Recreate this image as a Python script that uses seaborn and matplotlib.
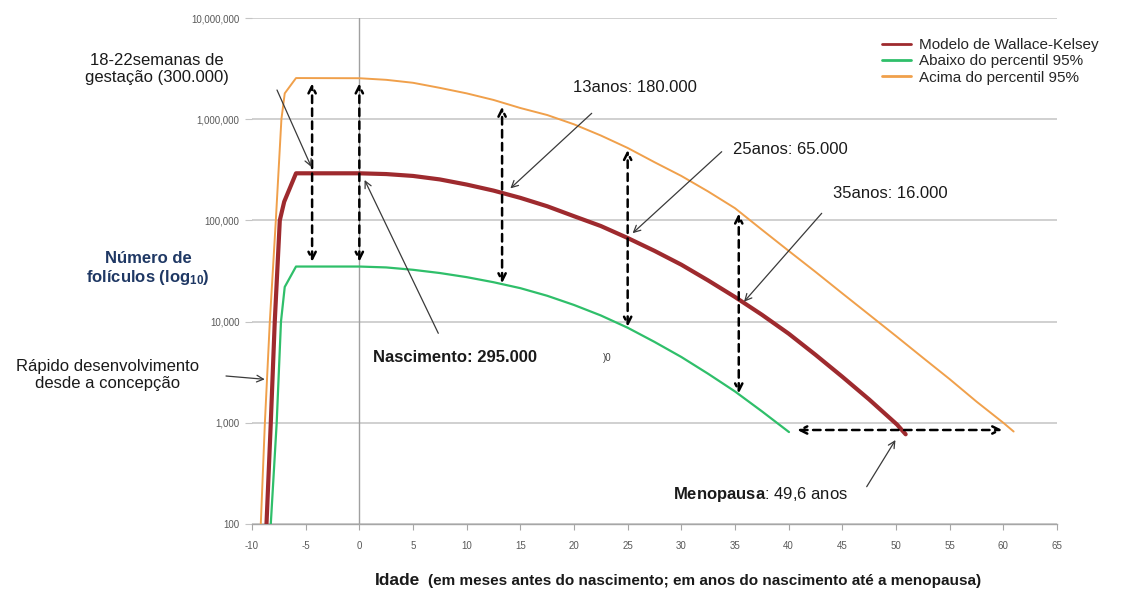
import matplotlib
matplotlib.use("Agg")
import matplotlib.pyplot as plt
from matplotlib import font_manager
from matplotlib.lines import Line2D
from matplotlib.ticker import FixedLocator, FuncFormatter, NullLocator
import seaborn as sns
import pandas as pd

# Curvas (idade < 0: meses antes do nascimento; >= 0: anos)
idade_wk = [-8.65, -8.25, -7.88, -7.41, -7.0, -5.9, 0, 2.5, 5, 7.5, 10, 12.5, 15, 17.5, 20,
            22.5, 25, 27.5, 30, 32.5, 35, 37.5, 40, 42.5, 45, 47.5, 50.1, 50.9]
foliculos_wk = [100, 1000, 10000, 100000, 153000, 292000, 292000, 287000, 275000, 254000,
                226000, 197000, 167000, 138000, 110000, 88000, 67000, 50000, 36500, 25500,
                17500, 11700, 7600, 4700, 2850, 1700, 960, 770]

idade_baixo = [-8.25, -7.7, -7.3, -6.95, -5.9, 0, 2.5, 5, 7.5, 10, 12.5, 15, 17.5, 20, 22.5,
               25, 27.5, 30, 32.5, 35, 37.5, 40.03]
foliculos_baixo = [100, 1000, 10000, 22000, 35000, 35000, 34300, 32500, 30200, 27500, 24500,
                   21400, 18000, 14600, 11500, 8700, 6300, 4470, 3050, 2040, 1300, 810]

idade_acima = [-9.18, -8.8, -8.34, -7.78, -7.26, -6.95, -5.9, 0, 2.5, 5, 7.5, 10, 12.5, 15,
               17.5, 20, 22.5, 25, 27.5, 30, 32.5, 35, 37.5, 40, 42.5, 45, 47.5, 50, 52.5,
               55, 57.5, 60, 60.96]
foliculos_acima = [100, 1000, 10000, 100000, 1000000, 1800000, 2550000, 2540000, 2450000,
                   2290000, 2040000, 1800000, 1550000, 1290000, 1100000, 890000, 690000,
                   520000, 376000, 275000, 193000, 132000, 81000, 50000, 31000, 19000,
                   11700, 7200, 4400, 2700, 1620, 1000, 820]

series = ["Modelo de Wallace-Kelsey", "Abaixo do percentil 95%", "Acima do percentil 95%"]
cores = ["#9e2a2e", "#2fbf6a", "#f0a04b"]
espessuras = [3.0, 1.6, 1.4]

x_ticks = list(range(-10, 70, 5))
y_ticks = [100, 1000, 10000, 100000, 1000000, 10000000]

# setas tracejadas verticais (idade, topo, base)
setas_idade = [-4.4, 0, 13.3, 25, 35.35]
setas_topo = [2260000, 2260000, 1330000, 497000, 117000]
setas_base = [39000, 39000, 23900, 8900, 1950]
# seta horizontal da menopausa
meno_nivel = 849
meno_de, meno_ate = 40.8, 59.9

sns.set_theme(style="white")
plt.rcParams["font.family"] = ["Liberation Sans", "DejaVu Sans"]
plt.rcParams["axes.unicode_minus"] = False
plt.rcParams["mathtext.fontset"] = "custom"
plt.rcParams["mathtext.rm"] = "Liberation Sans"
plt.rcParams["mathtext.bf"] = "Liberation Sans:bold"
plt.rcParams["mathtext.it"] = "Liberation Sans:italic"

W, H = 1146, 592


def fp(x, y):
    # pixel da figura -> fracao
    return (x / W, 1 - y / H)


df = pd.concat([
    pd.DataFrame({"idade": idade_wk, "foliculos": foliculos_wk, "serie": series[0]}),
    pd.DataFrame({"idade": idade_baixo, "foliculos": foliculos_baixo, "serie": series[1]}),
    pd.DataFrame({"idade": idade_acima, "foliculos": foliculos_acima, "serie": series[2]}),
])

fig = plt.figure(figsize=(W / 100, H / 100), dpi=100)
ax = fig.add_axes([252 / W, 1 - 524 / H, (1057 - 252) / W, (524 - 18) / H])

for nome, cor, lw in zip([series[1], series[2], series[0]], [cores[1], cores[2], cores[0]],
                         [espessuras[1], espessuras[2], espessuras[0]]):
    sns.lineplot(data=df[df["serie"] == nome], x="idade", y="foliculos", color=cor, lw=lw,
                 sort=False, estimator=None, ax=ax, zorder=3, legend=False)

ax.set_yscale("log")
ax.set_xlim(-10, 65)
ax.set_ylim(100, 1e7)
ax.xaxis.set_major_locator(FixedLocator(x_ticks))
ax.yaxis.set_major_locator(FixedLocator(y_ticks))
ax.yaxis.set_minor_locator(NullLocator())
ax.yaxis.set_major_formatter(FuncFormatter(lambda v, p: f"{int(round(v)):,}"))
ax.set_xlabel("")
ax.set_ylabel("")

ax.yaxis.grid(True, color="#c4c4c4", lw=1.1)
ax.xaxis.grid(False)
ax.axvline(0, color="#a0a0a0", lw=1.0, zorder=1)
for s in ["left", "top", "right"]:
    ax.spines[s].set_visible(False)
ax.spines["bottom"].set_color("#a6a6a6")
ax.spines["bottom"].set_linewidth(1.0)
ax.tick_params(axis="x", length=4, width=0.8, color="#a6a6a6", labelsize=7,
               labelcolor="#595959", pad=8, bottom=True)
ax.tick_params(axis="y", length=5, width=0.8, color="#c4c4c4", labelsize=7,
               labelcolor="#595959", pad=4, left=True)

# legenda
handles = [Line2D([], [], color=c, lw=2) for c in cores]
ax.legend(handles, series, loc="upper left", bbox_to_anchor=fp(882, 38),
          bbox_transform=fig.transFigure, frameon=False, fontsize=11, handlelength=1.9,
          handletextpad=0.5, labelspacing=0.15, borderaxespad=0, borderpad=0)

# setas tracejadas
seta_tracejada = dict(arrowstyle="<->", color="black", lw=1.8, linestyle=(0, (3, 2.2)),
                      mutation_scale=13, shrinkA=0, shrinkB=0)
for x, t, b in zip(setas_idade, setas_topo, setas_base):
    ax.annotate("", xy=(x, t), xytext=(x, b), arrowprops=seta_tracejada, zorder=5)
ax.annotate("", xy=(meno_ate, meno_nivel), xytext=(meno_de, meno_nivel),
            arrowprops=seta_tracejada, zorder=5)

# setas finas das legendas de texto
seta_fina = dict(arrowstyle="->", color="#3a3a3a", lw=0.9, mutation_scale=12,
                 shrinkA=0, shrinkB=0)
for cauda, ponta in [((277, 90), (-4.47, 337000)),
                     ((591.7, 113.3), (14.07, 207000)),
                     ((721.7, 151.7), (25.46, 74700)),
                     ((821.7, 213.3), (35.84, 15700)),
                     ((438.3, 333.3), (0.49, 251000)),
                     ((226, 376), (-8.81, 2690)),
                     ((866.7, 486.7), (49.95, 676))]:
    ax.annotate("", xy=ponta, xycoords="data", xytext=fp(*cauda),
                textcoords="figure fraction", arrowprops=seta_fina, zorder=6,
                annotation_clip=False)

cor_txt = "#1a1a1a"
fig.text(*fp(157, 69), "18-22semanas de\ngestação (300.000)", ha="center", va="center",
         fontsize=12, color=cor_txt, linespacing=1.15)
fig.text(*fp(573, 88), "13anos: 180.000", ha="left", va="center", fontsize=12, color=cor_txt)
fig.text(*fp(733, 149), "25anos: 65.000", ha="left", va="center", fontsize=12, color=cor_txt)
fig.text(*fp(833, 194), "35anos: 16.000", ha="left", va="center", fontsize=12, color=cor_txt)
fig.text(*fp(373, 358), "Nascimento: 295.000", ha="left", va="center", fontsize=12,
         fontweight="bold", color=cor_txt)
fig.text(*fp(603, 358), ")0", ha="left", va="center", fontsize=7, color="#404040")
fig.text(*fp(108, 375), "Rápido desenvolvimento\ndesde a concepção", ha="center", va="center",
         fontsize=12, color=cor_txt, linespacing=1.15)
fig.text(*fp(148, 269), "Número de\nfolículos (log$_{\\mathbf{10}}$)", ha="center", va="center",
         fontsize=12, fontweight="bold", color="#1f3864", linespacing=1.2)
fig.text(*fp(673, 495), "$\\mathbf{Menopausa}$: 49,6 anos", ha="left", va="center",
         fontsize=12, color=cor_txt)

# titulo do eixo x
nomes = {f.name for f in font_manager.fontManager.ttflist}
estreita = "Liberation Sans Narrow" in nomes
fig.text(*fp(375, 585), "Idade", ha="left", va="baseline", fontsize=12.5, fontweight="bold",
         color=cor_txt)
fig.text(*fp(428, 585), "(em meses antes do nascimento; em anos do nascimento até a menopausa)",
         ha="left", va="baseline", fontsize=12.5 if estreita else 11, fontweight="bold",
         family=["Liberation Sans Narrow" if estreita else "Liberation Sans", "DejaVu Sans"],
         color=cor_txt)

fig.savefig("out.png", dpi=100)
